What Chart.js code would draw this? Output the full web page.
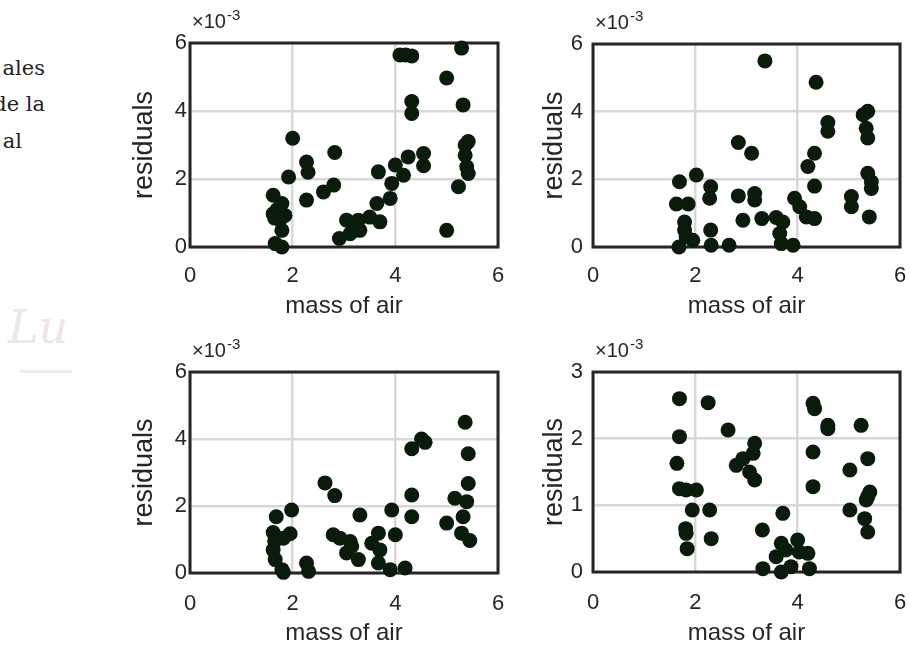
<!DOCTYPE html>
<html><head><meta charset="utf-8">
<script src="https://cdn.jsdelivr.net/npm/chart.js@4/dist/chart.umd.min.js"></script>
<style>
body{margin:0;background:#fff;width:910px;height:653px;overflow:hidden;position:relative;}
.side{position:absolute;left:-155px;width:200px;text-align:right;font-family:'DejaVu Serif',serif;font-size:21px;color:#222;white-space:nowrap;line-height:24px;}
.wm{position:absolute;left:8px;top:300px;font-family:'DejaVu Serif',serif;font-style:italic;font-size:46px;color:#efe6e9;}
.wmline{position:absolute;left:20px;top:370px;width:52px;height:3px;background:#f1eaec;}
canvas{position:absolute;}
</style></head><body>
<div class="side" style="top:56px">ales</div>
<div class="side" style="top:92px">de la</div>
<div class="side" style="top:129px;left:-178px">al</div>
<div class="wm">Lu</div>
<div class="wmline"></div>
<canvas id="c1" width="410" height="330" style="left:100px;top:0px"></canvas>
<canvas id="c2" width="407" height="330" style="left:503px;top:0px"></canvas>
<canvas id="c3" width="410" height="323" style="left:100px;top:330px"></canvas>
<canvas id="c4" width="407" height="323" style="left:503px;top:330px"></canvas>
<script>
// ---- data (residuals in units of 1e-3) ----
const xTicks = [0, 2, 4, 6];
const yTicksA = [0, 2, 4, 6];
const yTicksB = [0, 1, 2, 3];

const tlX = [1.62,1.62,1.79,1.70,1.85,1.79,1.66,1.79,2.00,1.92,2.27,2.30,2.27,2.60,2.80,2.82,2.91,3.05,3.12,3.28,3.31,3.18,3.50,3.64,3.70,3.67,3.90,3.93,4.00,4.16,4.09,4.20,4.32,4.32,4.32,4.25,4.55,4.55,5.00,5.00,5.23,5.29,5.32,5.42,5.36,5.39,5.42,5.36,1.65,1.75];
const tlY = [1.52,0.98,1.28,1.10,0.93,0.49,0.10,0.00,3.20,2.06,2.50,2.20,1.38,1.62,1.82,2.78,0.25,0.79,0.39,0.79,0.49,0.59,0.88,1.28,0.74,2.21,1.43,1.87,2.41,2.11,5.65,5.65,5.62,4.28,3.93,2.65,2.75,2.39,4.97,0.49,1.77,5.85,4.18,3.10,2.70,2.36,2.16,3.00,0.85,0.80];

const trX = [1.69,1.63,1.86,1.79,1.79,1.82,1.68,1.95,2.02,2.30,2.28,2.30,2.31,2.66,2.84,3.10,2.84,3.16,3.16,2.93,3.30,3.36,3.58,3.71,3.65,3.68,3.91,3.94,4.04,4.17,4.33,4.20,4.33,4.33,4.36,4.59,4.59,5.05,5.05,5.28,5.37,5.34,5.37,5.37,5.44,5.44,5.40];
const trY = [1.93,1.27,1.27,0.74,0.50,0.30,0.00,0.20,2.13,1.78,1.44,0.50,0.05,0.05,3.09,2.77,1.51,1.58,1.39,0.79,0.84,5.50,0.87,0.74,0.40,0.10,0.05,1.44,1.19,0.89,0.84,2.38,2.77,1.80,4.87,3.68,3.42,1.49,1.19,3.91,4.01,3.51,3.22,2.18,1.93,1.73,0.89];

const blX = [1.68,1.98,1.62,1.95,1.82,1.62,1.66,1.79,1.82,2.27,2.31,2.63,2.82,2.79,2.92,3.12,3.15,3.31,3.28,3.54,3.67,3.70,3.67,3.93,4.00,3.90,4.19,4.32,4.51,4.58,4.32,4.32,5.00,5.16,5.32,5.39,5.36,5.42,5.42,5.29,5.45,1.65,3.05];
const blY = [1.68,1.88,1.21,1.17,1.04,0.69,0.40,0.10,0.02,0.30,0.05,2.69,2.31,1.14,1.04,0.94,0.79,1.73,0.40,0.89,1.19,0.69,0.30,1.88,1.14,0.10,0.15,3.71,4.00,3.90,2.33,1.68,1.49,2.23,1.68,2.13,4.50,3.56,2.67,1.19,0.97,0.95,0.60];

const brX = [1.69,1.69,1.64,1.69,1.82,2.02,1.94,2.28,1.81,1.82,1.84,2.31,2.25,2.64,2.80,2.93,3.16,3.13,3.06,3.16,3.31,3.32,3.71,3.68,3.58,3.68,3.87,4.00,4.03,4.20,4.23,3.77,4.30,4.33,4.59,4.59,4.30,4.30,5.24,5.02,5.37,5.02,5.34,5.41,5.37,5.31,5.37];
const brY = [2.60,2.03,1.63,1.25,1.23,1.23,0.93,0.93,0.65,0.58,0.35,0.50,2.54,2.13,1.60,1.70,1.93,1.78,1.50,1.38,0.63,0.05,0.88,0.43,0.23,0.00,0.08,0.48,0.30,0.28,0.05,0.33,2.53,2.45,2.20,2.15,1.80,1.28,2.20,1.53,1.70,0.93,1.08,1.20,1.13,0.80,0.60];

const xTitle = 'mass of air';
const yTitle = 'residuals';
const expMain = '\u00d710';
const expSup = '-3';

// ---- styling ----
const INK = '#262626';
const DOT = '#0b1b0b';
const GRID = '#d8d8d8';
const FONT = "'Liberation Sans', Arial, sans-serif";

const boxPlugin = {
  id: 'boxAndExp',
  beforeDatasetsDraw(chart) {
    const {ctx, chartArea: a} = chart;
    ctx.save();
    ctx.strokeStyle = INK;
    ctx.lineWidth = 3;
    ctx.strokeRect(a.left, a.top, a.right - a.left, a.bottom - a.top);
    ctx.restore();
  },
  afterDraw(chart) {
    const {ctx, chartArea: a} = chart;
    ctx.save();
    ctx.fillStyle = INK;
    ctx.textBaseline = 'alphabetic';
    ctx.font = '20px ' + FONT;
    const x0 = a.left + 2, yb = a.top - 15;
    ctx.fillText(expMain, x0, yb);
    const w = ctx.measureText(expMain).width;
    ctx.font = '15px ' + FONT;
    ctx.fillText(expSup, x0 + w + 1, yb - 8);
    ctx.restore();
  }
};

function makeChart(id, xs, ys, yTicks, o) {
  const pts = xs.map((x, i) => ({x: x, y: ys[i]}));
  return new Chart(document.getElementById(id), {
    type: 'scatter',
    data: {datasets: [{data: pts, pointRadius: 7.5, pointHoverRadius: 7.5,
      backgroundColor: DOT, borderWidth: 0, clip: false}]},
    options: {
      responsive: false, animation: false, events: [],
      layout: {padding: {left: 0, top: o.top, right: o.right, bottom: 0}},
      plugins: {legend: {display: false}, tooltip: {enabled: false}},
      scales: {
        x: {
          type: 'linear', min: 0, max: 6,
          afterBuildTicks: s => { s.ticks = xTicks.map(v => ({value: v})); },
          afterFit: s => { s.height = o.xh; s.paddingLeft = 0; s.paddingRight = 0; },
          grid: {color: GRID, lineWidth: 2.5, drawTicks: false},
          border: {display: false},
          ticks: {font: {size: 22, family: FONT}, color: INK, padding: o.xpad},
          title: {display: true, text: xTitle, color: INK,
            font: {size: 24, family: FONT}, padding: {top: 0, bottom: o.xtpad}}
        },
        y: {
          type: 'linear', min: yTicks[0], max: yTicks[yTicks.length - 1],
          afterBuildTicks: s => { s.ticks = yTicks.map(v => ({value: v})); },
          afterFit: s => { s.width = 90; s.paddingTop = 0; s.paddingBottom = 0; },
          grid: {color: GRID, lineWidth: 2.5, drawTicks: false},
          border: {display: false},
          ticks: {font: {size: 22, family: FONT}, color: INK, padding: o.ypad},
          title: {display: true, text: yTitle, color: INK,
            font: {size: 27, family: FONT}, padding: {top: o.ytpad, bottom: 0}}
        }
      }
    },
    plugins: [boxPlugin]
  });
}

makeChart('c1', tlX, tlY, yTicksA, {top: 43, right: 12, xh: 83, xpad: 16, xtpad: 9, ypad: 3, ytpad: 28});
makeChart('c2', trX, trY, yTicksA, {top: 44, right: 10, xh: 83, xpad: 16, xtpad: 9, ypad: 10, ytpad: 35});
makeChart('c3', blX, blY, yTicksA, {top: 42, right: 12, xh: 80, xpad: 18, xtpad: 5, ypad: 3, ytpad: 28});
makeChart('c4', brX, brY, yTicksB, {top: 42, right: 10, xh: 81, xpad: 18, xtpad: 5, ypad: 10, ytpad: 35});
</script>
</body></html>
